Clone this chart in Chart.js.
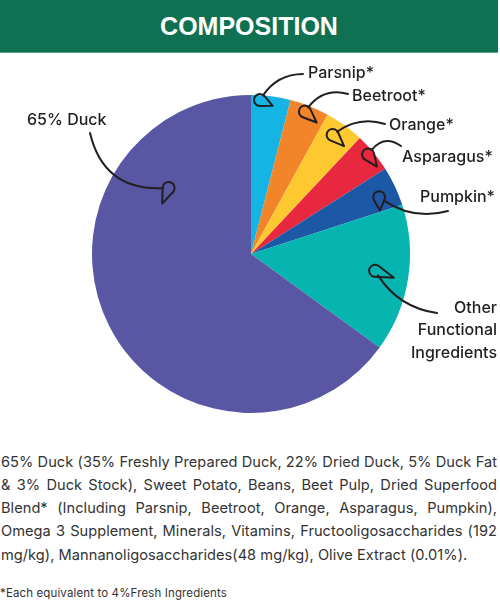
<!DOCTYPE html>
<html><head><meta charset="utf-8">
<script src="https://cdn.jsdelivr.net/npm/chart.js@4.4.0/dist/chart.umd.min.js"></script>
<style>
html,body{margin:0;padding:0;background:#fff;width:500px;height:600px;overflow:hidden;}
#hdr{position:absolute;left:0;top:0;width:498px;height:52px;background:#0f7152;border-bottom:1px solid #5aa686;color:#fff;font:bold 25px "Liberation Sans",Arial,sans-serif;text-align:center;line-height:52px;}
#wrap{position:absolute;left:0;top:52px;width:500px;height:390px;}
#para{position:absolute;left:1px;top:450.5px;width:498px;font:400 14.6px Inter,sans-serif;color:#333;}
.ln{white-space:nowrap;height:23.3px;line-height:23.3px;}
#foot{position:absolute;left:0;top:583px;font:400 11.5px Inter,sans-serif;color:#333;white-space:nowrap;line-height:20px;}
</style></head>
<body>
<div id="hdr">COMPOSITION</div>
<div id="wrap"><canvas id="c"></canvas></div>
<div id="para"></div>
<div id="foot"></div>
<script>
// ---- data ----
const categories = ['Parsnip*','Beetroot*','Orange*','Asparagus*','Pumpkin*','Other Functional Ingredients','65% Duck'];
const values = [4,4,4,4,4,15,65];
const sliceColors = ['#14b5e4','#f2842a','#fdc830','#e8283f','#1d58a6','#07b5b0','#5957a4'];
const labelLines = [['Parsnip*'],['Beetroot*'],['Orange*'],['Asparagus*'],['Pumpkin*'],['Other','Functional','Ingredients'],['65% Duck']];
const paraLines = [
 '65% Duck (35% Freshly Prepared Duck, 22% Dried Duck, 5% Duck Fat',
 '& 3% Duck Stock), Sweet Potato, Beans, Beet Pulp, Dried Superfood',
 'Blend* (Including Parsnip, Beetroot, Orange, Asparagus, Pumpkin),',
 'Omega 3 Supplement, Minerals, Vitamins, Fructooligosaccharides (192',
 'mg/kg), Mannanoligosaccharides(48 mg/kg), Olive Extract (0.01%).'
];
const footnote = '*Each equivalent to 4%Fresh Ingredients';

// ---- layout of annotations (canvas px) ----
const labelPos = [
 {x:308,y:21,align:'left'},{x:352,y:44,align:'left'},{x:389,y:73,align:'left'},
 {x:402,y:105,align:'left'},{x:420,y:145,align:'left'},{x:497,y:256,align:'right',lh:22.5},
 {x:27,y:68,align:'left'}
];
const arrowSpec = [
 {sx:303,sy:22,af:0.3,rf:1.0,bend:12,ang:-99,L:14},
 {sx:348,sy:42,af:0.48,rf:0.99,bend:14,ang:-85,L:16},
 {sx:385,sy:72,af:0.44,rf:0.94,bend:12,ang:-100,L:16},
 {sx:401,sy:94,af:0.42,rf:1.0,bend:14,ang:-75,L:15},
 {sx:448,sy:159,af:0.72,rf:0.9,bend:-15,ang:-127,L:13},
 {sx:437,sy:261,af:0.51,rf:0.81,bend:-16,ang:143,L:20},
 {sx:90,sy:81,af:0.773,rf:0.69,bend:38,ang:115,L:17}
];

const annot = {
 id:'annot',
 afterDraw(chart){
  const ctx = chart.ctx;
  const meta = chart.getDatasetMeta(0);
  ctx.save();
  ctx.strokeStyle = '#231f20'; ctx.fillStyle = '#231f20';
  ctx.lineWidth = 2; ctx.lineCap = 'round'; ctx.lineJoin = 'round';
  meta.data.forEach((arc,i)=>{
   const p = arc.getProps(['x','y','startAngle','endAngle','outerRadius'], true);
   const s = arrowSpec[i];
   const a = p.startAngle + (p.endAngle - p.startAngle)*s.af;
   const bx = p.x + p.outerRadius*s.rf*Math.cos(a);
   const by = p.y + p.outerRadius*s.rf*Math.sin(a);
   const dx = bx - s.sx, dy = by - s.sy, len = Math.hypot(dx,dy);
   const nx = -dy/len, ny = dx/len;
   const cx = (bx + s.sx)/2 + nx*s.bend, cy = (by + s.sy)/2 + ny*s.bend;
   ctx.beginPath(); ctx.moveTo(s.sx,s.sy); ctx.quadraticCurveTo(cx,cy,bx,by); ctx.stroke();
   // head
   let ex = bx - cx, ey = by - cy; const el = Math.hypot(ex,ey); ex/=el; ey/=el;
   const rr = 6;
   const ccx = bx + ex*rr*0.9, ccy = by + ey*rr*0.9;
   const ra = s.ang*Math.PI/180;
   const tdx = ex*Math.cos(ra) - ey*Math.sin(ra), tdy = ex*Math.sin(ra) + ey*Math.cos(ra);
   const tx = ccx + tdx*s.L, ty = ccy + tdy*s.L;
   const phi = Math.atan2(ty-ccy, tx-ccx);
   const beta = Math.acos(rr/s.L);
   ctx.beginPath();
   ctx.moveTo(tx,ty);
   ctx.lineTo(ccx + rr*Math.cos(phi+beta), ccy + rr*Math.sin(phi+beta));
   ctx.arc(ccx,ccy,rr,phi+beta,phi-beta+2*Math.PI,false);
   ctx.closePath(); ctx.stroke();
   // label
   const lp = labelPos[i];
   ctx.font = '500 16px Inter, sans-serif';
   ctx.textAlign = lp.align; ctx.textBaseline = 'middle';
   labelLines[i].forEach((t,k)=> ctx.fillText(t, lp.x, lp.y + k*(lp.lh||0)));
  });
  ctx.restore();
 }
};

new Chart(document.getElementById('c'), {
 type:'pie',
 data:{labels:categories, datasets:[{data:values, backgroundColor:sliceColors, borderWidth:0, hoverOffset:0}]},
 options:{
  responsive:true, maintainAspectRatio:false, animation:false,
  layout:{padding:{left:92,right:90,top:43,bottom:29}},
  plugins:{legend:{display:false}, tooltip:{enabled:false}}
 },
 plugins:[annot]
});

// ---- paragraph with justified lines ----
const para = document.getElementById('para');
function measure(text, font, ls){
 const sp = document.createElement('span');
 sp.style.cssText = 'position:absolute;visibility:hidden;white-space:nowrap;font:'+font+';letter-spacing:'+ls+'px';
 sp.textContent = text; document.body.appendChild(sp);
 const w = sp.getBoundingClientRect().width; sp.remove(); return w;
}
const pFont = '400 14.6px Inter, sans-serif';
const targets = paraLines.map((t,i)=> i < paraLines.length-1 ? 495 : 473);
let ls = Infinity;
paraLines.forEach((t,i)=>{
 const w0 = measure(t, pFont, 0);
 ls = Math.min(ls, (targets[i] - w0)/t.length);
});
paraLines.forEach((t,i)=>{
 const d = document.createElement('div'); d.className='ln'; d.textContent = t;
 d.style.letterSpacing = ls+'px';
 if(i < paraLines.length-1){
  const w = measure(t, pFont, ls);
  const n = (t.match(/ /g)||[]).length;
  d.style.wordSpacing = ((496 - w)/n)+'px';
 }
 para.appendChild(d);
});
const foot = document.getElementById('foot');
foot.textContent = footnote;
const fw = measure(footnote, '400 11.5px Inter, sans-serif', 0);
foot.style.letterSpacing = ((227 - fw)/footnote.length)+'px';
</script>
</body></html>
